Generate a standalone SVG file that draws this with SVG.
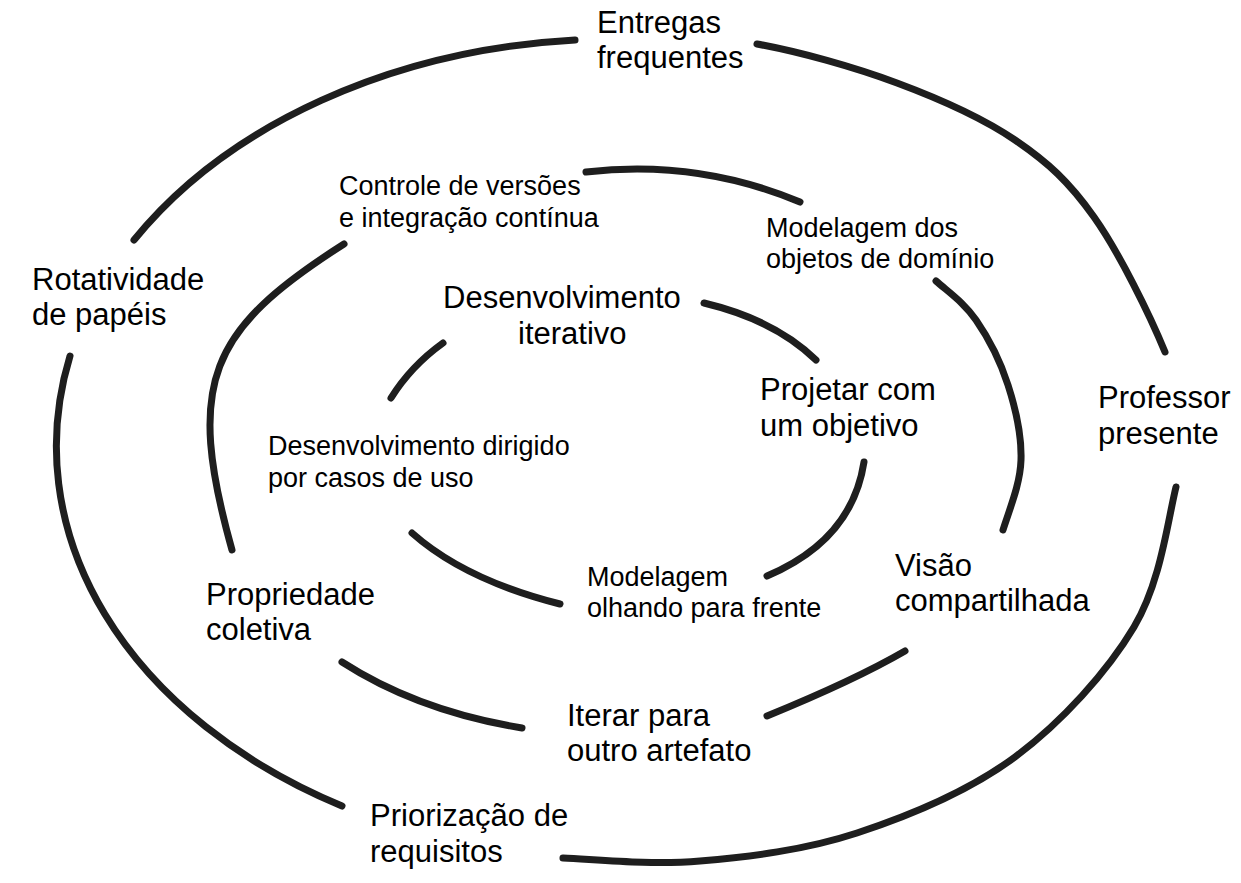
<svg xmlns="http://www.w3.org/2000/svg" width="1241" height="883" viewBox="0 0 1241 883">
<style>
.arc{fill:none;stroke:#1e1e1e;stroke-width:7;stroke-linecap:round}
.big{font-family:"Liberation Sans",Arial,sans-serif;font-size:31px;fill:#000}
.small{font-family:"Liberation Sans",Arial,sans-serif;font-size:27px;fill:#000}
</style>
<rect width="1241" height="883" fill="#fff"/>
<g id="connectors">
<path class="arc" d="M134,240 A562,413 0 0 1 575,40"/>
<path class="arc" d="M757,44 C799.8,51.8 854,67 897,83 C940,99 982.2,117.7 1015,140 C1047.8,162.3 1069,181.7 1094,217 C1119,252.3 1149.8,314.8 1165,352"/>
<path class="arc" d="M1176,487 C1167.5,521.5 1160.8,582 1134,627 C1107.2,672 1061.2,722.7 1015,757 C968.8,791.3 909.5,815.7 857,833 C804.5,850.3 749,856.8 700,861 C651,865.2 599.7,859.8 563,858"/>
<path class="arc" d="M70,356 A562,413 0 0 0 342,806"/>
<path class="arc" d="M586,172 Q697,159 800,202"/>
<path class="arc" d="M344,244 C209,330 185,382 232,550"/>
<path class="arc" d="M936,281 C950.3,293.5 964,302.7 976,320 C988,337.3 1000.5,361.7 1008,385 C1015.5,408.3 1021.8,435.8 1021,460 C1020.2,484.2 1009.8,508.3 1003,530"/>
<path class="arc" d="M342,662 Q418,711 522,728"/>
<path class="arc" d="M767,716 Q855,680 905,651"/>
<path class="arc" d="M443,343 Q411,366 391,398"/>
<path class="arc" d="M704,303 Q775,320 816,360"/>
<path class="arc" d="M864,462 Q852,540 767,576"/>
<path class="arc" d="M412,533 Q465,580 560,604"/>
</g>
<g id="entregas"><text class="big" x="597" y="33">Entregas</text><text class="big" x="597" y="68">frequentes</text></g>
<g id="rotatividade"><text class="big" x="32" y="290">Rotatividade</text><text class="big" x="32" y="325">de papéis</text></g>
<g id="controle"><text class="small" x="339" y="195">Controle de versões</text><text class="small" x="339" y="227">e integração contínua</text></g>
<g id="modelagem-dominio"><text class="small" x="766" y="237">Modelagem dos</text><text class="small" x="766" y="268">objetos de domínio</text></g>
<g id="desenvolvimento-iterativo"><text class="big" x="443" y="308">Desenvolvimento</text><text class="big" x="518" y="344">iterativo</text></g>
<g id="projetar"><text class="big" x="760" y="400">Projetar com</text><text class="big" x="760" y="436">um objetivo</text></g>
<g id="professor"><text class="big" x="1098" y="408">Professor</text><text class="big" x="1098" y="444">presente</text></g>
<g id="casos-de-uso"><text class="small" x="268" y="455">Desenvolvimento dirigido</text><text class="small" x="268" y="487">por casos de uso</text></g>
<g id="propriedade"><text class="big" x="206" y="605">Propriedade</text><text class="big" x="206" y="640">coletiva</text></g>
<g id="modelagem-frente"><text class="small" x="587" y="586">Modelagem</text><text class="small" x="587" y="617">olhando para frente</text></g>
<g id="visao"><text class="big" x="895" y="576">Visão</text><text class="big" x="895" y="611">compartilhada</text></g>
<g id="iterar"><text class="big" x="567" y="726">Iterar para</text><text class="big" x="567" y="761">outro artefato</text></g>
<g id="priorizacao"><text class="big" x="370" y="826">Priorização de</text><text class="big" x="370" y="862">requisitos</text></g>
</svg>
